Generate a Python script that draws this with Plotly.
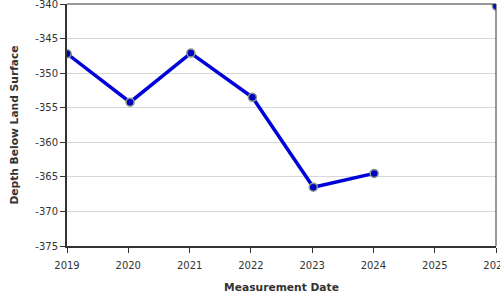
import plotly.graph_objects as go

dates = ["2019-01-02", "2020-01-12", "2021-01-08", "2022-01-10", "2023-01-08", "2024-01-06", None, "2026-01-03"]
depths = [-347.2, -354.2, -347.1, -353.5, -366.5, -364.5, None, -340.3]

y_ticks = [-340, -345, -350, -355, -360, -365, -370, -375]
y_tick_text = ["-340", "-345", "-350", "-355", "-360", "-365", "-370", "-375"]

x_range = ["2019-01-01", "2026-01-01"]
y_range = [-375, -340]

font = "DejaVu Sans, Verdana, sans-serif"

fig = go.Figure()
fig.add_trace(go.Scatter(
    x=dates, y=depths, mode="lines+markers",
    line=dict(color="#0000d8", width=3.5),
    marker=dict(color="#0000c0", size=8, line=dict(color="#8a9a8a", width=1.5)),
    connectgaps=False,
    showlegend=False,
))

fig.update_layout(
    width=500, height=300,
    margin=dict(l=67, r=4, t=4, b=54),
    paper_bgcolor="white", plot_bgcolor="white",
    font=dict(family=font, size=10, color="#333333"),
    xaxis=dict(
        type="date", range=x_range, dtick="M12", tick0="2019-01-01", tickformat="%Y",
        showgrid=False, zeroline=False, automargin=False,
        showline=True, linecolor="#333333", linewidth=2,
        ticks="outside", ticklen=5, tickcolor="#333333", tickwidth=1,
        tickfont=dict(size=10, color="#333333"),
        ticklabeloverflow="allow", ticklabelstandoff=4,
        title=dict(text="<b>Measurement Date</b>", font=dict(size=10.7, color="#333333"), standoff=14),
    ),
    yaxis=dict(
        range=y_range, tickvals=y_ticks, ticktext=y_tick_text,
        showgrid=True, gridcolor="#d8d8d8", gridwidth=1, zeroline=False, automargin=False,
        showline=True, linecolor="#333333", linewidth=2,
        ticks="outside", ticklen=5, tickcolor="#333333", tickwidth=1,
        tickfont=dict(size=10, color="#333333"),
        ticklabeloverflow="allow",
        title=dict(text="<b>Depth Below Land Surface</b>", font=dict(size=10.7, color="#333333"), standoff=15),
    ),
    shapes=[
        dict(type="line", xref="paper", yref="paper", x0=0, x1=1, y0=1, y1=1,
             line=dict(color="#333333", width=1)),
        dict(type="line", xref="paper", yref="paper", x0=1, x1=1, y0=0, y1=1,
             line=dict(color="#333333", width=1)),
    ],
)

fig.write_html("out.html")
